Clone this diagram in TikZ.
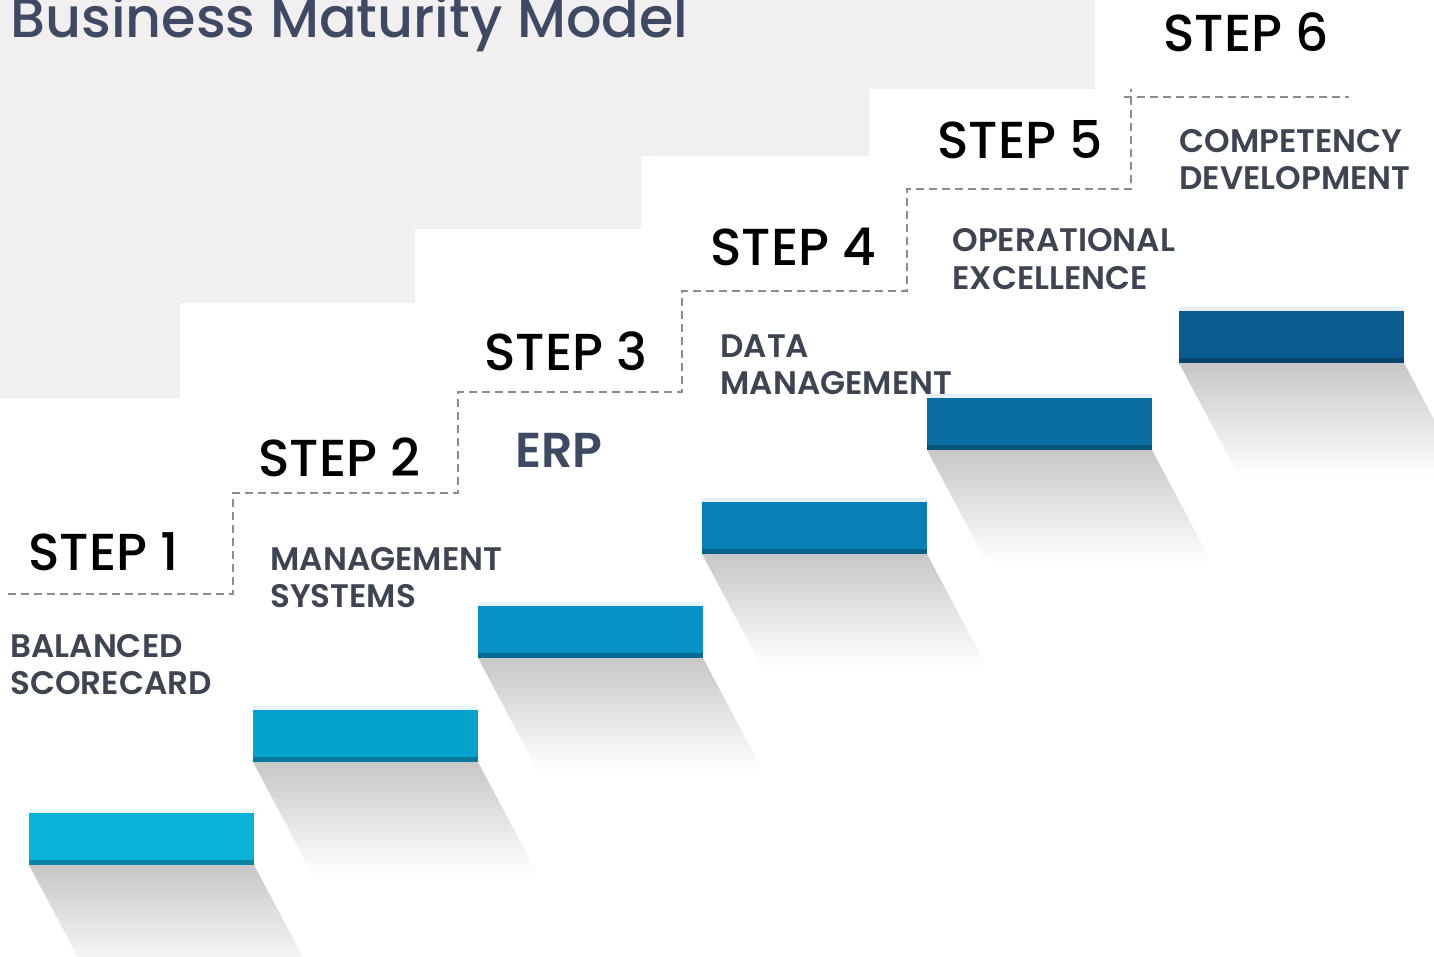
\documentclass[tikz,border=0pt]{standalone}
\usepackage{fontspec}
\setmainfont{Poppins}
\newfontfamily\medfont{Poppins Medium}
\newfontfamily\semifont{Poppins SemiBold}

\definecolor{bggray}{RGB}{241,239,240}
\definecolor{titleblue}{RGB}{62,74,100}
\definecolor{labelgray}{RGB}{62,68,82}
\definecolor{dashgray}{RGB}{140,140,140}
\definecolor{barA}{RGB}{10,178,218}
\definecolor{barB}{RGB}{6,162,206}
\definecolor{barC}{RGB}{6,146,198}
\definecolor{barD}{RGB}{8,128,182}
\definecolor{barE}{RGB}{10,110,162}
\definecolor{barF}{RGB}{10,92,144}

\begin{document}
\begin{tikzpicture}[x=0.5pt,y=-0.5pt,
    steplabel/.style={font=\medfont\fontsize{26}{28}\selectfont,text=black,
      inner sep=0pt,anchor=base west},
    stagetext/.style={font=\semifont\fontsize{16.3}{18.5}\selectfont,
      text=labelgray,inner sep=0pt,anchor=base west,align=left},
    stairline/.style={dashgray,line width=1pt,dash pattern=on 4pt off 2.5pt},
    stairshadow/.style={top color=black!22,bottom color=white}]
  \clip (0,0) rectangle (1434,957);
  \fill[white] (0,0) rectangle (1434,957);

  % grey stairs in the back
  \fill[bggray] (0,0) -- (1095,0) -- (1095,89) -- (869,89) -- (869,156)
    -- (641,156) -- (641,229) -- (415,229) -- (415,303) -- (180,303)
    -- (180,398) -- (0,398) -- cycle;

  \node[font=\medfont\fontsize{27.8}{30}\selectfont,text=titleblue,
    inner sep=0pt,anchor=base west] (title) at (10,38) {Business Maturity Model};

  % the six blue steps
  \begin{scope}[shift={(29,813)}]
    \shade[stairshadow] (0,52) -- (225,52) -- (285,165) -- (60,165) -- cycle;
    \fill[barA!10] (0,-4) rectangle (225,0);
    \fill[barA] (0,0) rectangle (225,52);
    \fill[barA!75!black] (0,47) rectangle (225,52);
  \end{scope}

  \begin{scope}[shift={(253,710)}]
    \shade[stairshadow] (0,52) -- (225,52) -- (285,165) -- (60,165) -- cycle;
    \fill[barB!10] (0,-4) rectangle (225,0);
    \fill[barB] (0,0) rectangle (225,52);
    \fill[barB!75!black] (0,47) rectangle (225,52);
  \end{scope}

  \begin{scope}[shift={(478,606)}]
    \shade[stairshadow] (0,52) -- (225,52) -- (285,165) -- (60,165) -- cycle;
    \fill[barC!10] (0,-4) rectangle (225,0);
    \fill[barC] (0,0) rectangle (225,52);
    \fill[barC!75!black] (0,47) rectangle (225,52);
  \end{scope}

  \begin{scope}[shift={(702,502)}]
    \shade[stairshadow] (0,52) -- (225,52) -- (285,165) -- (60,165) -- cycle;
    \fill[barD!10] (0,-4) rectangle (225,0);
    \fill[barD] (0,0) rectangle (225,52);
    \fill[barD!75!black] (0,47) rectangle (225,52);
  \end{scope}

  \begin{scope}[shift={(927,398)}]
    \shade[stairshadow] (0,52) -- (225,52) -- (285,165) -- (60,165) -- cycle;
    \fill[barE!10] (0,-4) rectangle (225,0);
    \fill[barE] (0,0) rectangle (225,52);
    \fill[barE!75!black] (0,47) rectangle (225,52);
  \end{scope}

  \begin{scope}[shift={(1179,311)}]
    \shade[stairshadow] (0,52) -- (225,52) -- (285,165) -- (60,165) -- cycle;
    \fill[barF!10] (0,-4) rectangle (225,0);
    \fill[barF] (0,0) rectangle (225,52);
    \fill[barF!75!black] (0,47) rectangle (225,52);
  \end{scope}

  % dashed stair line
  \draw[stairline] (8,594) -- (233,594) -- (233,493) -- (458,493) -- (458,392)
    -- (682,392) -- (682,291) -- (907,291) -- (907,189) -- (1131,189) -- (1131,89);
  \draw[stairline] (1124,97) -- (1349,97);

  \node[steplabel] (step1) at (28,570) {STEP 1};
  \node[steplabel] (step2) at (258,476) {STEP 2};
  \node[steplabel] (step3) at (484,370) {STEP 3};
  \node[steplabel] (step4) at (710,265) {STEP 4};
  \node[steplabel] (step5) at (937,159) {STEP 5};
  \node[steplabel] (step6) at (1163,52) {STEP 6};

  % the base of a two-line node is its last line
  \node[stagetext] (scorecard) at (10,694) {BALANCED\\SCORECARD};
  \node[stagetext] (mgmtsys) at (270,607) {MANAGEMENT\\SYSTEMS};
  \node[stagetext,font=\semifont\fontsize{24.5}{26}\selectfont,
    text=titleblue] (erp) at (515,467) {ERP};
  \node[stagetext] (datamgmt) at (720,394) {DATA\\MANAGEMENT};
  \node[stagetext] (opex) at (952,289) {OPERATIONAL\\EXCELLENCE};
  \node[stagetext] (compdev) at (1179,190) {COMPETENCY\\DEVELOPMENT};
\end{tikzpicture}
\end{document}
